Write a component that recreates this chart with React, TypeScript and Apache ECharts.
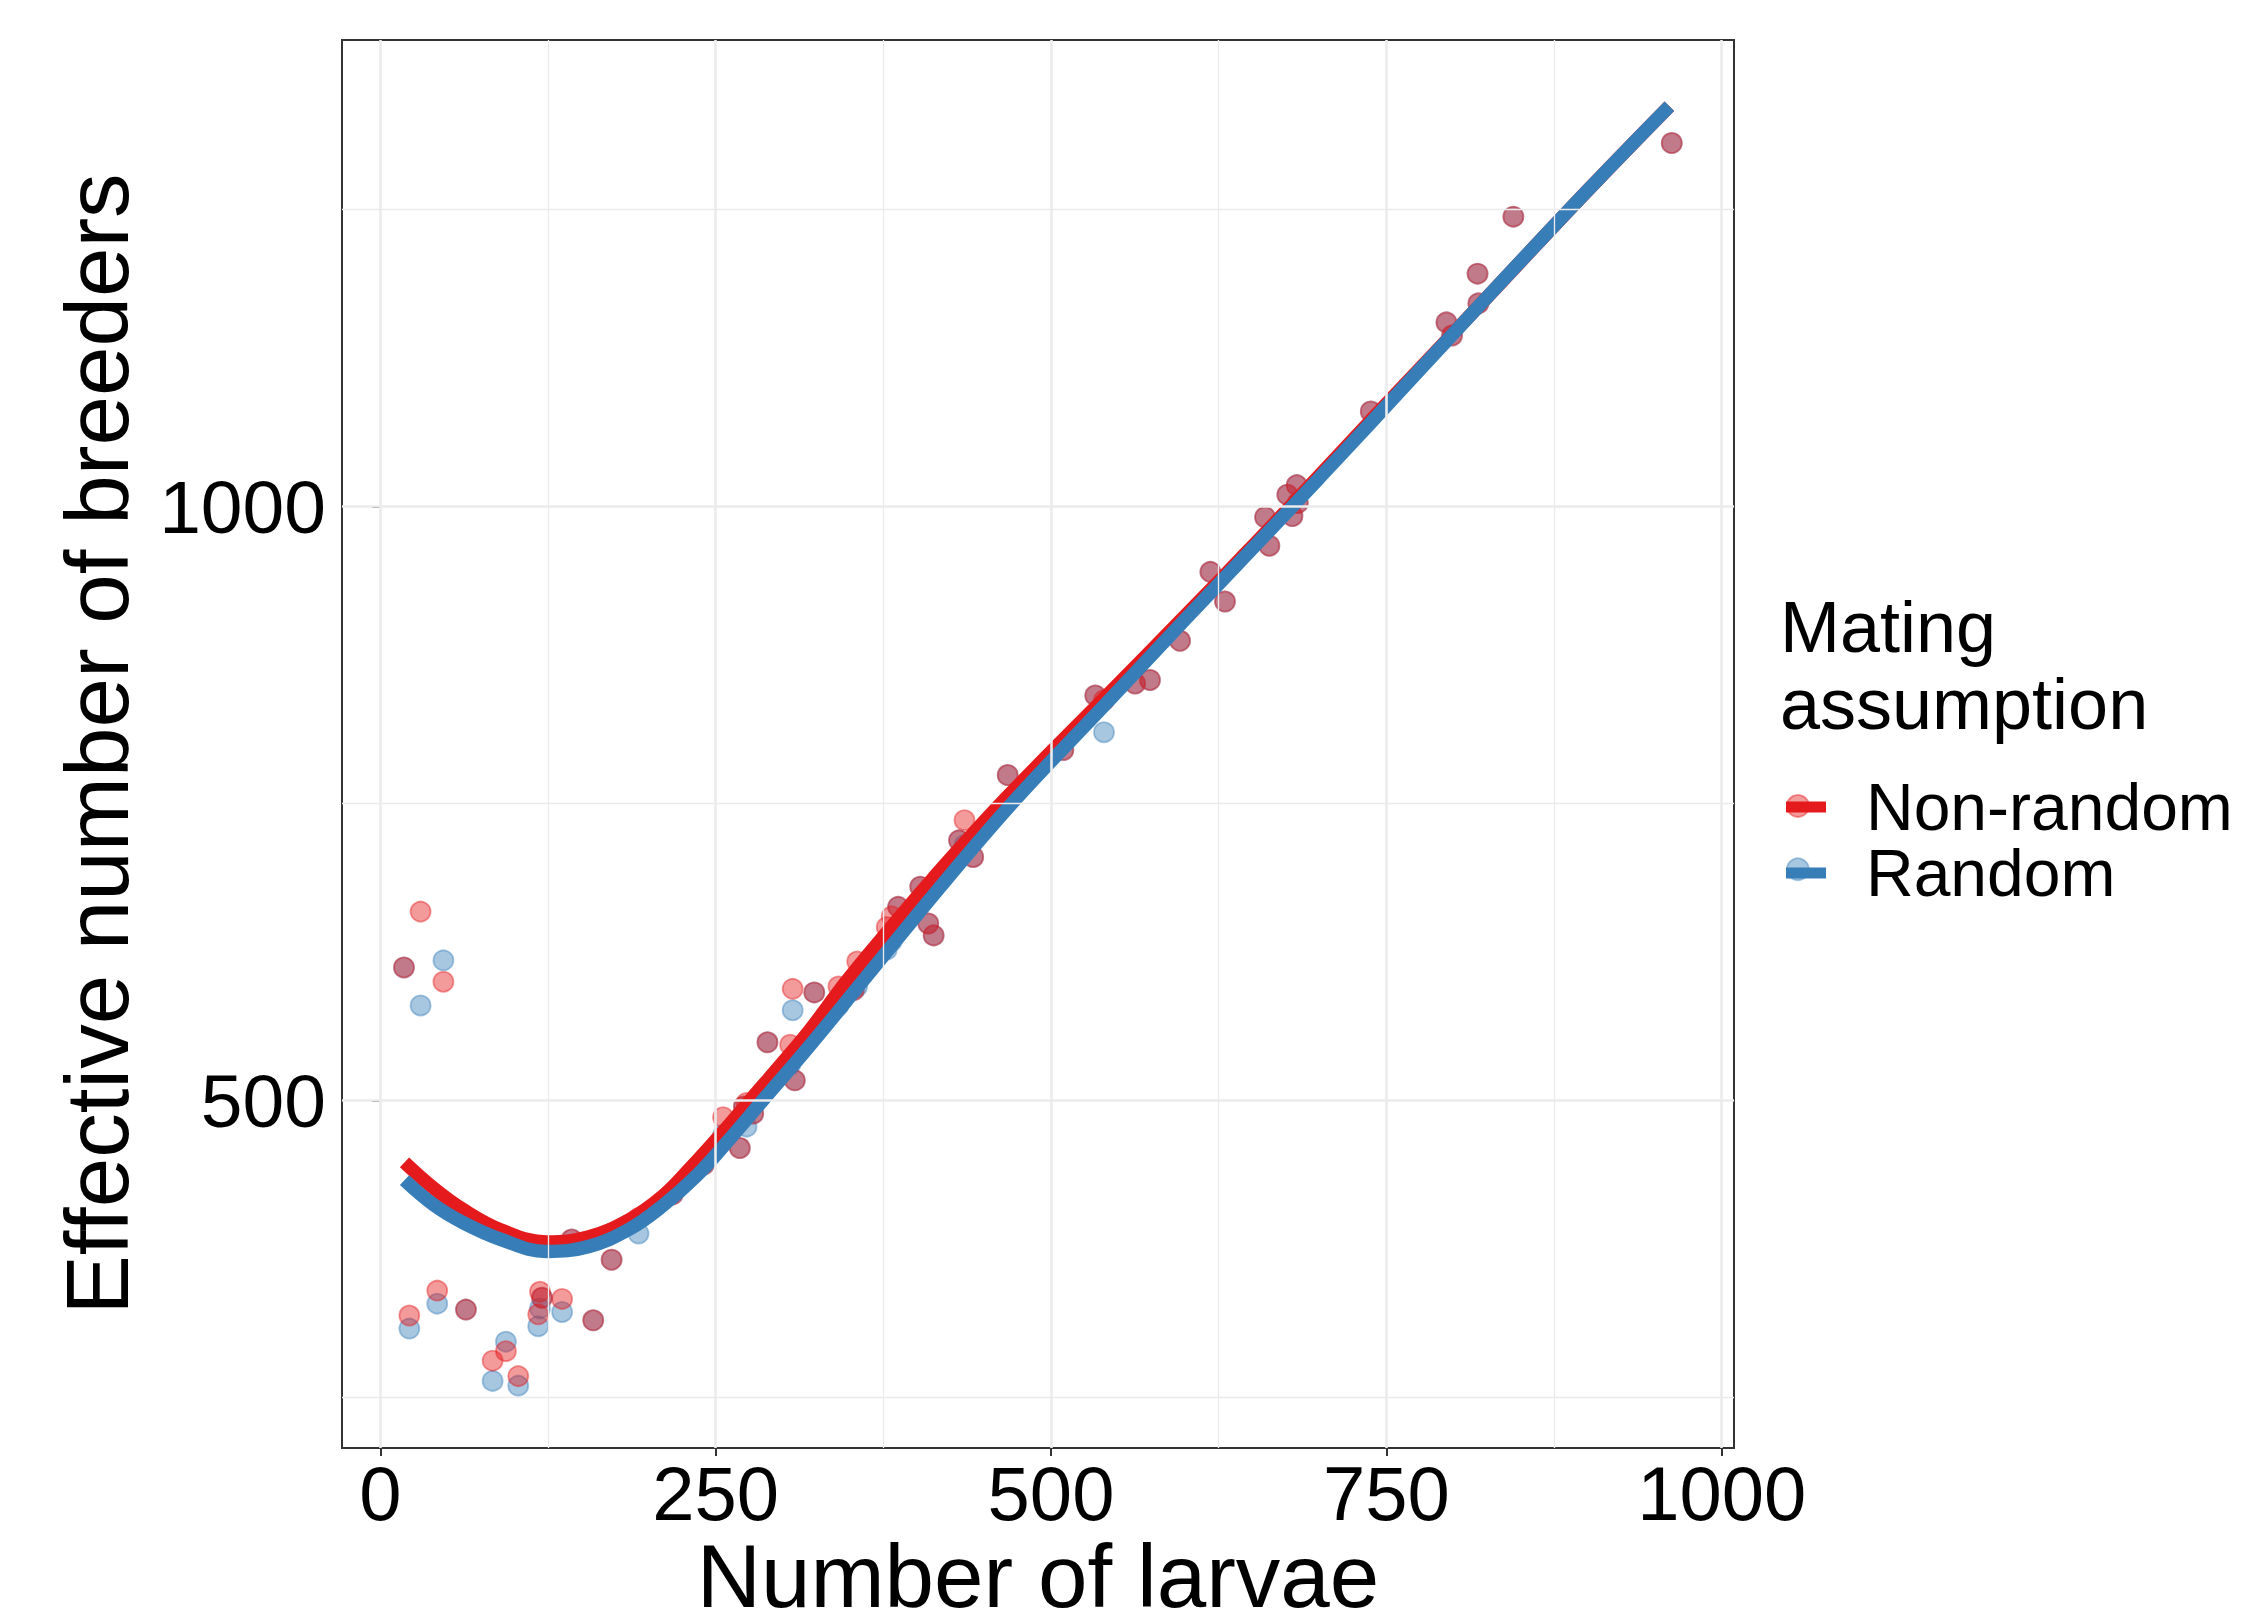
import React, { useEffect, useRef } from "react";
import * as echarts from "echarts";

// ---- data ----
const larvae = [17.6, 21.6, 30, 42.4, 47, 63.8, 83.7, 93.6, 102.8, 117.7, 119, 120.5, 135.5, 142.6, 158.7, 172.4, 192.5, 218, 241, 255.5, 268, 271, 273, 278, 288.6, 305.5, 307.4, 309, 323.5, 341.5, 353, 355.5, 377.5, 381.2, 386, 402.5, 408.5, 412.5, 431.4, 435.5, 442, 467.7, 509.2, 533, 539.5, 562.7, 573.8, 596.2, 618.8, 629.7, 659.6, 662.8, 676.2, 680, 683.2, 684, 738.4, 794.8, 799, 818, 818.6, 844.7, 962.8];
const nonRandomNe = [612, 319, 659, 340, 600, 324, 281, 289, 268, 320, 339, 334, 333, 383, 315, 366, 401, 421, 446, 486, 460, 495, 498, 489, 549, 547, 594, 517, 591, 596, 593, 617, 646, 655, 663, 680, 649, 639, 719, 736, 705, 774, 795, 841, 837, 851, 854, 887, 945, 920, 991, 967, 1010, 992, 1018, 1003, 1080, 1155, 1144, 1196, 1171, 1244, 1306];
const randomNe = [612, 308, 580, 329, 618, 324, 264, 297, 260, 310, 325, 334, 322, 383, 315, 366, 388, 421, 446, 471, 460, 495, 478, 489, 549, 530, 576, 517, 591, 580, 593, 596, 627, 634, 663, 680, 649, 639, 719, 715, 705, 774, 795, 841, 810, 851, 854, 887, 945, 920, 991, 967, 1010, 992, 1018, 1003, 1080, 1155, 1144, 1196, 1171, 1244, 1306];

// smoothed fits
const nonRandomFitX = [18, 40, 62, 90, 124, 155, 186, 210, 231, 255, 277, 300, 320, 348, 375, 412, 466, 541, 600, 648, 700, 738, 820, 900, 961];
const nonRandomFitY = [448, 426, 408, 391, 381, 385, 400, 419, 443, 473, 502, 532, 559, 601, 638, 687, 754, 840, 908, 964, 1026, 1072, 1170, 1266, 1337];
const randomFitX = [18, 40, 62, 90, 124, 155, 186, 210, 236, 260, 285, 320, 360, 422, 474, 541, 600, 648, 700, 738, 820, 900, 961];
const randomFitY = [433, 412, 397, 383, 373, 377, 392, 411, 437, 467, 500, 546, 601, 686, 754, 834, 905, 962, 1024, 1070, 1170, 1266, 1337];

const xTicks = [0, 250, 500, 750, 1000];
const xMinor = [125, 375, 625, 875];
const yTicks = [500, 1000];
const yMinor = [250, 750, 1250];

const seriesNames = ["Non-random", "Random"];
const legendTitle = "Mating\nassumption";
const xTitle = "Number of larvae";
const yTitle = "Effective number of breeders";

const RED = "#E41A1C";
const BLUE = "#377EB8";
const RED_A = "rgba(228,26,28,0.55)";
const BLUE_A = "rgba(55,126,184,0.55)";
const FONT = "'Liberation Sans', Arial, Helvetica, sans-serif";

export default function App() {
  const ref = useRef<HTMLDivElement>(null);

  useEffect(() => {
    if (!ref.current) return;
    const chart = echarts.init(ref.current, undefined, { renderer: "svg" });

    const gridLines = [
      ...xTicks.map((v) => ({ xAxis: v, lineStyle: { color: "#EBEBEB", width: 2.6, type: "solid" } })),
      ...xMinor.map((v) => ({ xAxis: v, lineStyle: { color: "#EBEBEB", width: 1.3, type: "solid" } })),
      ...yTicks.map((v) => ({ yAxis: v, lineStyle: { color: "#EBEBEB", width: 2.6, type: "solid" } })),
      ...yMinor.map((v) => ({ yAxis: v, lineStyle: { color: "#EBEBEB", width: 1.3, type: "solid" } })),
    ];

    const pointStyle = (c: string) => ({ color: c, borderColor: c, borderWidth: 1.8 });
    const plain = (v: number) => String(v);

    const option: any = {
      animation: false,
      backgroundColor: "#ffffff",
      textStyle: { fontFamily: FONT },
      title: {
        text: legendTitle,
        left: 1780,
        top: 588,
        padding: 0,
        textStyle: { fontSize: 72, lineHeight: 77, fontWeight: "normal", color: "#000", fontFamily: FONT },
      },
      grid: {
        left: 342,
        top: 40,
        width: 1392,
        height: 1408,
        show: true,
        borderColor: "#333333",
        borderWidth: 2,
        backgroundColor: "#ffffff",
        containLabel: false,
        outerBoundsMode: "none",
      },
      legend: [
        {
          orient: "vertical",
          left: 1786,
          top: 794,
          padding: 0,
          itemGap: 39.5,
          itemWidth: 40,
          itemHeight: 22,
          z: 4,
          selectedMode: false,
          formatter: () => "",
          textStyle: { fontSize: 66, lineHeight: 62, color: "#000", fontFamily: FONT },
          data: [
            { name: seriesNames[0] + " points", icon: "circle", itemStyle: pointStyle(RED_A) },
            { name: seriesNames[1] + " points", icon: "circle", itemStyle: pointStyle(BLUE_A) },
          ],
        },
        {
          orient: "vertical",
          left: 1786,
          top: 774,
          padding: 0,
          itemGap: 0,
          itemWidth: 40,
          itemHeight: 11,
          z: 5,
          selectedMode: false,
          textStyle: { fontSize: 66, lineHeight: 62, color: "#000", fontFamily: FONT, padding: [0, 0, 0, 35] },
          data: [
            { name: seriesNames[0], icon: "rect", itemStyle: { color: RED, borderWidth: 0 } },
            { name: seriesNames[1], icon: "rect", itemStyle: { color: BLUE, borderWidth: 0 } },
          ],
        },
      ],
      xAxis: {
        type: "value",
        min: -28.6,
        max: 1009.2,
        name: xTitle,
        nameLocation: "middle",
        nameGap: 93,
        nameMoveOverlap: false,
        nameTextStyle: { fontSize: 89, lineHeight: 70, color: "#000", fontFamily: FONT },
        axisLine: { show: false },
        axisTick: { show: true, length: 8, lineStyle: { color: "#333333", width: 2 }, customValues: xTicks },
        axisLabel: { customValues: xTicks, formatter: plain, fontSize: 76, lineHeight: 77, color: "#000", margin: 7, fontFamily: FONT },
        splitLine: { show: false },
      },
      yAxis: {
        type: "value",
        min: 207.5,
        max: 1392.7,
        name: yTitle,
        nameLocation: "middle",
        nameRotate: 90,
        nameGap: 201,
        nameMoveOverlap: false,
        nameTextStyle: { fontSize: 89, lineHeight: 89, color: "#000", fontFamily: FONT },
        axisLine: { show: false },
        axisTick: { show: true, length: 8, lineStyle: { color: "#333333", width: 2 }, customValues: yTicks },
        axisLabel: { customValues: yTicks, formatter: plain, fontSize: 75, lineHeight: 75, color: "#000", margin: 16, fontFamily: FONT },
        splitLine: { show: false },
      },
      series: [
        {
          name: "grid",
          type: "line",
          data: [],
          z: 1,
          silent: true,
          markLine: {
            silent: true,
            symbol: ["none", "none"],
            label: { show: false },
            emphasis: { disabled: true },
            animation: false,
            data: gridLines,
          },
        },
        {
          name: seriesNames[1] + " points",
          type: "scatter",
          z: 2,
          symbol: "circle",
          symbolSize: 20,
          itemStyle: pointStyle(BLUE_A),
          emphasis: { disabled: true },
          data: larvae.map((x, i) => [x, randomNe[i]]),
        },
        {
          name: seriesNames[0] + " points",
          type: "scatter",
          z: 2,
          symbol: "circle",
          symbolSize: 20,
          itemStyle: pointStyle(RED_A),
          emphasis: { disabled: true },
          data: larvae.map((x, i) => [x, nonRandomNe[i]]),
        },
        {
          name: seriesNames[0],
          type: "line",
          z: 3,
          color: RED,
          smooth: 0.4,
          showSymbol: false,
          symbol: "none",
          lineStyle: { color: RED, width: 13.5, cap: "butt" },
          emphasis: { disabled: true },
          data: nonRandomFitX.map((x, i) => [x, nonRandomFitY[i]]),
        },
        {
          name: seriesNames[1],
          type: "line",
          z: 3,
          color: BLUE,
          smooth: 0.4,
          showSymbol: false,
          symbol: "none",
          lineStyle: { color: BLUE, width: 13.5, cap: "butt" },
          emphasis: { disabled: true },
          data: randomFitX.map((x, i) => [x, randomFitY[i]]),
        },
      ],
    };

    chart.setOption(option);
    return () => chart.dispose();
  }, []);

  return (
    <div
      ref={ref}
      style={{ position: "fixed", left: 0, top: 0, width: 2244, height: 1613, background: "#fff" }}
    />
  );
}
